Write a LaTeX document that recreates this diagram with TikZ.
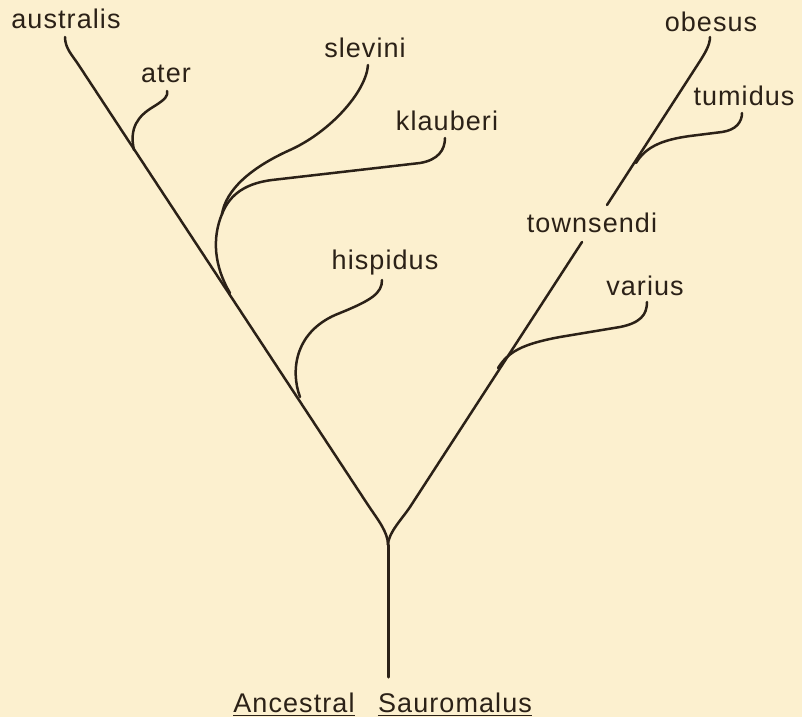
\documentclass[tikz,border=0pt]{standalone}
\usepackage{fontspec}
\setmainfont[LetterSpace=4]{Liberation Sans}
\definecolor{bg}{HTML}{FCF0CF}
\definecolor{ink}{HTML}{2B2117}
\begin{document}
\begin{tikzpicture}[x=1pt,y=-1pt,
  branch/.style={draw=ink, line width=2.5pt, line cap=round, line join=round},
  lab/.style={text=ink, font=\fontsize{27}{27}\selectfont, anchor=base, inner sep=0pt},
  uline/.style={draw=ink, line width=1.8pt}]
\fill[bg] (0,0) rectangle (802,717);
\useasboundingbox (0,0) rectangle (802,717);

% labels
\node[lab] (australis) at (66,29) {australis};
\node[lab] (ater) at (166,82) {ater};
\node[lab] (slevini) at (365,58) {slevini};
\node[lab] (klauberi) at (447,130) {klauberi};
\node[lab] (obesus) at (711,32) {obesus};
\node[lab] (tumidus) at (744,105) {tumidus};
\node[lab] (townsendi) at (592,232) {townsendi};
\node[lab] (hispidus) at (385,269) {hispidus};
\node[lab] (varius) at (645,295) {varius};
\node[lab] (anc) at (294,712) {Ancestral};
\node[lab] (sau) at (455,712) {Sauromalus};
\draw[uline] ([yshift=-3.5pt]anc.base west) -- ([yshift=-3.5pt]anc.base east);
\draw[uline] ([yshift=-3.5pt]sau.base west) -- ([yshift=-3.5pt]sau.base east);

% key points
\coordinate (root) at (388,677);
\coordinate (fork) at (388,545);
\coordinate (tAus) at (65,37);
\coordinate (tAter) at (167,91);
\coordinate (split) at (222,214);
\coordinate (tSle) at (368,65);
\coordinate (tKla) at (445,138);
\coordinate (tHis) at (382,280);
\coordinate (tVar) at (647,302);
\coordinate (tTow) at (582,242);
\coordinate (bObe) at (607,205);
\coordinate (tObe) at (710,37);
\coordinate (tTum) at (742,113);

% trunk
\draw[branch, line width=3pt] (root) -- (fork);
% left main line
\draw[branch] (tAus) .. controls (65,48) and (72,55) .. (78,64) -- (368,505)
  .. controls (378,520) and (388,532) .. (fork);
% right main line (lower part)
\draw[branch] (fork) .. controls (388,533) and (402,519) .. (410,507) -- (tTow);
% right main line (upper part)
\draw[branch] (bObe) -- (700,61) .. controls (705,53) and (710,45) .. (tObe);
% ater
\draw[branch] (134,150) .. controls (129,128) and (138,116) .. (153,107)
  .. controls (166,99) and (168,96) .. (tAter);
% common stem of slevini and klauberi
\draw[branch] (230,293) .. controls (214,266) and (212,238) .. (split);
% slevini
\draw[branch] (split) .. controls (226,190) and (250,168) .. (290,150)
  .. controls (330,132) and (366,92) .. (tSle);
% klauberi
\draw[branch] (split) .. controls (228,199) and (240,184) .. (272,180)
  -- (420,163) .. controls (438,160) and (445,150) .. (tKla);
% hispidus
\draw[branch] (300,397) .. controls (290,370) and (295,330) .. (340,313)
  .. controls (372,300) and (382,293) .. (tHis);
% varius
\draw[branch] (498,368) .. controls (508,352) and (522,344) .. (560,337)
  -- (620,327) .. controls (640,323) and (647,315) .. (tVar);
% tumidus
\draw[branch] (636,163) .. controls (645,148) and (660,140) .. (690,136)
  -- (722,132) .. controls (736,130) and (742,122) .. (tTum);
\end{tikzpicture}
\end{document}
